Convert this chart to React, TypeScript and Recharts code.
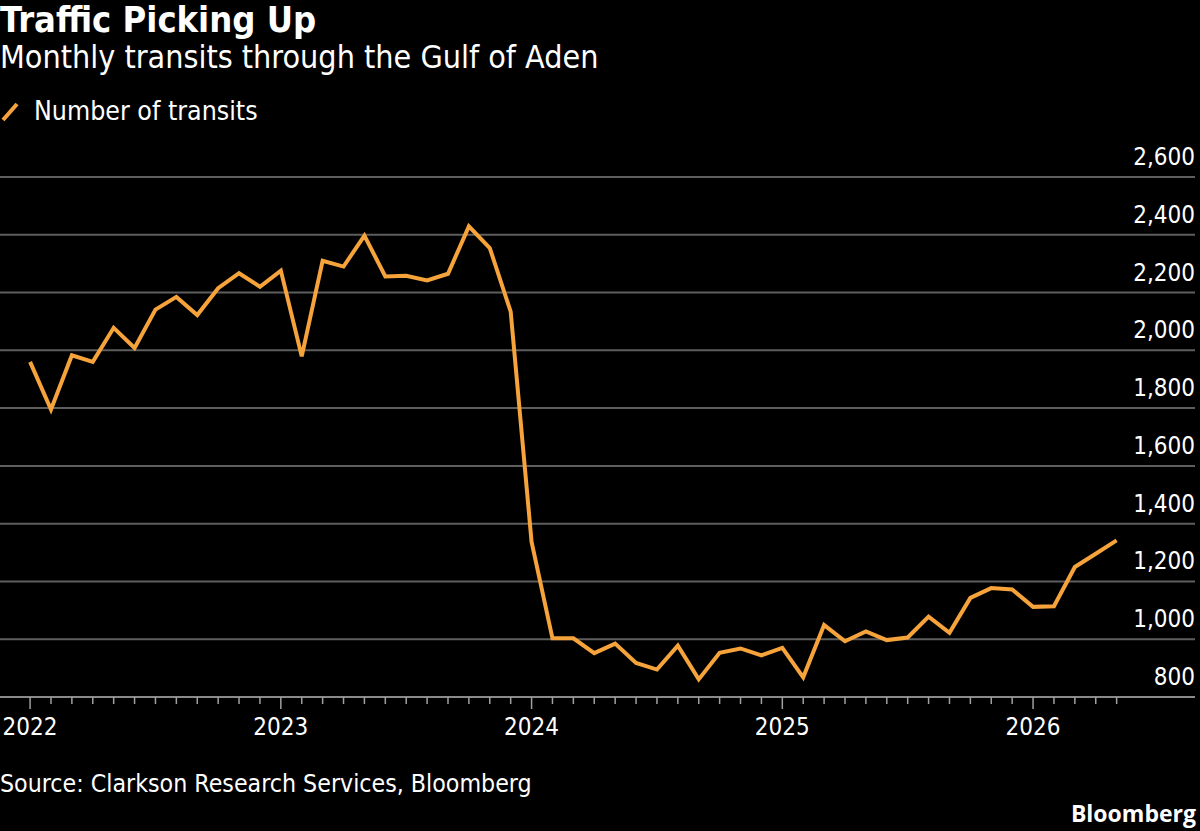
import React from 'react';
import { LineChart, Line, XAxis, YAxis, CartesianGrid } from 'recharts';

// monthly transits through the Gulf of Aden
const years = [2022, 2023, 2024, 2025, 2026];
const transits2022 = [1960, 1795, 1983, 1960, 2078, 2008, 2141, 2185, 2122, 2215, 2267, 2220];
const transits2023 = [2276, 1979, 2310, 2290, 2397, 2256, 2258, 2242, 2265, 2429, 2354, 2134];
const transits2024 = [1337, 1003, 1003, 952, 985, 918, 895, 978, 861, 953, 968, 944];
const transits2025 = [970, 868, 1049, 993, 1027, 997, 1006, 1078, 1022, 1143, 1177, 1172];
const transits2026 = [1112, 1114, 1250, 1296, 1342];
const yTicks = [800, 1000, 1200, 1400, 1600, 1800, 2000, 2200, 2400, 2600];

const transitsByYear = [transits2022, transits2023, transits2024, transits2025, transits2026];

// month index 0 = Jan 2022
const data = transitsByYear.flatMap((vals, yi) =>
  vals.map((v, m) => ({ month: yi * 12 + m, transits: v }))
);
const monthTicks = data.map((d) => d.month);

const ORANGE = '#f6a33b';
const GRID = '#5e5e5e';
const FONT = '"DejaVu Sans Condensed", "Roboto", sans-serif';

const MonthTick = (props: any) => {
  const { x, y, payload } = props;
  const isYear = payload.value % 12 === 0;
  return (
    <g>
      <line x1={x} x2={x} y1={y} y2={y + (isYear ? 12 : 7)} stroke="#a0a0a0" strokeWidth={1.5} />
      {isYear && (
        <text x={x} y={y + 38} textAnchor="middle" fill="#fff" fontSize={24} fontFamily={FONT}>
          {years[payload.value / 12]}
        </text>
      )}
    </g>
  );
};

const ValueTick = (props: any) => {
  const { x, y, payload } = props;
  return (
    <text x={x} y={y - 12} textAnchor="end" fill="#fff" fontSize={24} fontFamily={FONT}>
      {payload.value.toLocaleString('en-US')}
    </text>
  );
};

export default function App() {
  return (
    <div style={{ position: 'absolute', top: 0, left: 0, width: 1200, height: 831, background: '#000', overflow: 'hidden' }}>
      <LineChart width={1200} height={831} data={data} margin={{ top: 177, right: 4, bottom: 94, left: 0 }}>
        <CartesianGrid vertical={false} stroke={GRID} strokeWidth={2} />
        <XAxis
          dataKey="month"
          type="number"
          domain={[-1.44, 55.75]}
          ticks={monthTicks}
          interval={0}
          height={40}
          tickSize={0}
          tickMargin={0}
          tickLine={false}
          axisLine={{ stroke: '#8a8a8a', strokeWidth: 2 }}
          tick={<MonthTick />}
        />
        <YAxis
          orientation="right"
          width={1}
          domain={[800, 2600]}
          ticks={yTicks}
          interval={0}
          tickSize={0}
          tickMargin={0}
          axisLine={false}
          tickLine={false}
          tick={<ValueTick />}
        />
        <Line
          type="linear"
          dataKey="transits"
          stroke={ORANGE}
          strokeWidth={4}
          dot={false}
          isAnimationActive={false}
        />
      </LineChart>
      <svg width={1200} height={831} style={{ position: 'absolute', top: 0, left: 0, pointerEvents: 'none' }}>
        <text x={0} y={32} fill="#fff" fontSize={36} fontWeight="bold" fontFamily={FONT}>
          Traffic Picking Up
        </text>
        <text x={0} y={68} fill="#fff" fontSize={32} fontFamily={FONT}>
          Monthly transits through the Gulf of Aden
        </text>
        <line x1={3} y1={120} x2={17} y2={104} stroke={ORANGE} strokeWidth={4} />
        <text x={34} y={120} fill="#fff" fontSize={26.5} fontFamily={FONT}>
          Number of transits
        </text>
        <text x={0} y={792} fill="#fff" fontSize={24.7} fontFamily={FONT}>
          Source: Clarkson Research Services, Bloomberg
        </text>
        <text x={1196} y={822} textAnchor="end" fill="#fff" fontSize={23} fontWeight="bold" fontFamily='"Open Sans", sans-serif'>
          Bloomberg
        </text>
      </svg>
    </div>
  );
}
